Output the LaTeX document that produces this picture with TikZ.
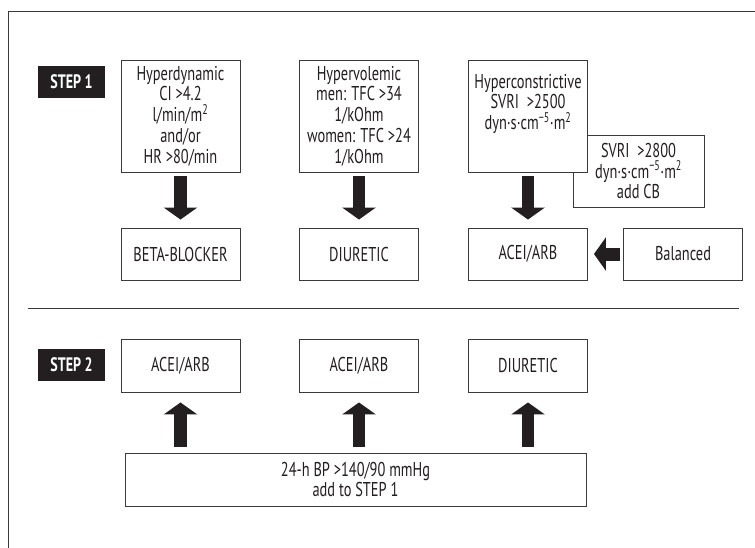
\documentclass[tikz,border=0pt]{standalone}
\usepackage{fontspec}
\setmainfont{PT Sans}[FakeStretch=0.72]
\usetikzlibrary{arrows.meta}
\definecolor{ink}{HTML}{231F20}
\definecolor{rule}{HTML}{3A3A3A}
\tikzstyle{box}=[draw=rule,line width=0.9pt,fill=white,text=ink,inner sep=0pt,align=center,font=\fontsize{20}{20.8}\selectfont]
\tikzstyle{tall}=[box,minimum width=119pt,minimum height=112pt]
\tikzstyle{drug}=[box,minimum width=119pt,minimum height=52pt]
\tikzstyle{steptag}=[fill=ink,text=white,inner sep=0pt,minimum width=67pt,minimum height=32pt,font=\fontsize{19.5}{20}\selectfont\bfseries]
\tikzstyle{bigarrow}=[draw=ink,line width=12.5pt,-{Triangle[width=33pt,length=12pt]}]

\begin{document}
\begin{tikzpicture}[x=1pt,y=-1pt]
                    \useasboundingbox (0,0) rectangle (755,547);
                    \draw [rule,line width=0.9pt] (8,560) -- (8,11) -- (770,11);
                    \draw [rule,line width=0.9pt] (28,308) -- (739,308);

                    \node (s1) at (71.5, 82) [steptag] {STEP 1};
                    \node (s2) at (71.5, 365) [steptag] {STEP 2};

                    \node (hdyn) at (180.5, 116) [tall] {Hyperdynamic\\CI >4.2\\l/min/m\textsuperscript{2}\\and/or\\HR >80/min};
                    \node (hvol) at (359, 116) [tall] {Hypervolemic\\men: TFC >34\\1/kOhm\\women: TFC >24\\1/kOhm};
                    \node (svri) at (638.5, 171) [box,minimum width=131pt,minimum height=72pt] {SVRI~ >2800\\dyn·s·cm\textsuperscript{−5}·m\textsuperscript{2}\\add CB};
                    \node (hcon) at (528, 116) [tall] {};
                    \node (hcontxt) at (hcon.north) [box,draw=none,fill=none,anchor=north,yshift=-14pt] {Hyperconstrictive\\SVRI~ >2500\\dyn·s·cm\textsuperscript{−5}·m\textsuperscript{2}};

                    \node (beta) at (180.5, 254) [drug] {BETA-BLOCKER};
                    \node (diu) at (359, 254) [drug] {DIURETIC};
                    \node (acei) at (528, 254) [drug] {ACEI/ARB};
                    \node (bal) at (683, 254) [drug] {Balanced};

                    \node (a1) at (180.5, 365.5) [drug,minimum height=53pt] {ACEI/ARB};
                    \node (a2) at (359, 365.5) [drug,minimum height=53pt] {ACEI/ARB};
                    \node (d2) at (528, 365.5) [drug,minimum height=53pt] {DIURETIC};

                    \node (bp) at (355.5, 479.5) [box,minimum width=461pt,minimum height=53pt] {24-h BP >140/90 mmHg\\add to STEP 1};

                    \draw [bigarrow,shorten <=4pt,shorten >=8pt] (hdyn) -- (beta);
                    \draw [bigarrow,shorten <=4pt,shorten >=8pt] (hvol) -- (diu);
                    \draw [bigarrow,shorten <=4pt,shorten >=8pt] (hcon) -- (acei);
                    \draw [bigarrow,line width=13pt,shorten <=3pt,shorten >=6pt] (bal) -- (acei);

                    \draw [bigarrow,shorten <=6pt,shorten >=10pt] (bp.north -| a1) -- (a1);
                    \draw [bigarrow,shorten <=6pt,shorten >=10pt] (bp.north -| a2) -- (a2);
                    \draw [bigarrow,shorten <=6pt,shorten >=10pt] (bp.north -| d2) -- (d2);
                \end{tikzpicture}
\end{document}
